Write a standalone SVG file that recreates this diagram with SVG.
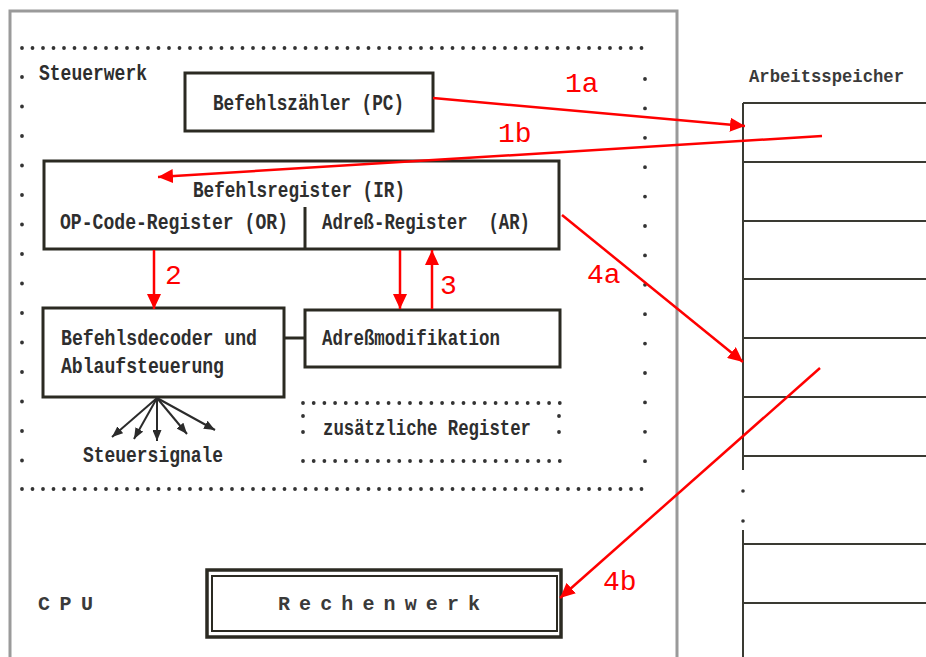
<svg xmlns="http://www.w3.org/2000/svg" width="926" height="657" viewBox="0 0 926 657">
<defs>
<style>
.box{fill:none;stroke:#2b2a22;stroke-width:3}
.t{font-family:"Liberation Mono","DejaVu Sans Mono",monospace;font-size:22px;font-weight:bold;fill:#2e2e2e}
.tl{font-family:"Liberation Mono","DejaVu Sans Mono",monospace;font-size:20px;font-weight:bold;fill:#3a3a3a}
.dots{fill:none;stroke:#333;stroke-width:3.8;stroke-linecap:round}
.mem{fill:none;stroke:#3a3a32;stroke-width:2}
.red{fill:none;stroke:#ff0000;stroke-width:2.5}
.rl{font-family:"Liberation Mono","DejaVu Sans Mono",monospace;font-size:28px;fill:#ff0000}
.sig{fill:none;stroke:#2b2b2b;stroke-width:2}
</style>
<marker id="ah" markerUnits="userSpaceOnUse" markerWidth="16" markerHeight="14" refX="15" refY="7" orient="auto">
<path d="M0,0 L15,7 L0,14 z" fill="#ff0000"/>
</marker>
<marker id="sh" markerUnits="userSpaceOnUse" markerWidth="11" markerHeight="9" refX="11" refY="4.5" orient="auto">
<path d="M0,0 L11,4.5 L0,9 z" fill="#2b2b2b"/>
</marker>
</defs>
<rect width="926" height="657" fill="#ffffff"/>

<g id="cpu">
<polyline points="10,657 10,11 677,11 677,657" fill="none" stroke="#9a9a9a" stroke-width="3"/>
<text class="tl" x="38" y="610" textLength="55" lengthAdjust="spacing">CPU</text>
</g>

<g id="steuerwerk">
<line class="dots" x1="22" y1="48" x2="645" y2="48" stroke-dasharray="0 10.5"/>
<line class="dots" x1="22" y1="489" x2="645" y2="489" stroke-dasharray="0 10.5"/>
<line class="dots" x1="22" y1="77" x2="22" y2="462" stroke-dasharray="0 29.5"/>
<line class="dots" x1="645" y1="79" x2="645" y2="462" stroke-dasharray="0 29.4"/>
<text class="t" x="39" y="80" textLength="108" lengthAdjust="spacingAndGlyphs">Steuerwerk</text>
</g>

<g id="befehlszaehler">
<rect class="box" x="185" y="73" width="248" height="58"/>
<text class="t" x="213" y="110" textLength="191" lengthAdjust="spacingAndGlyphs">Befehlszähler (PC)</text>
</g>

<g id="befehlsregister">
<rect class="box" x="44" y="161" width="515" height="88"/>
<line class="box" x1="305" y1="207" x2="305" y2="249"/>
<text class="t" x="193" y="197" textLength="212" lengthAdjust="spacingAndGlyphs">Befehlsregister (IR)</text>
<text class="t" x="60" y="229" textLength="228" lengthAdjust="spacingAndGlyphs">OP-Code-Register (OR)</text>
<text class="t" x="322" y="229" textLength="208" lengthAdjust="spacingAndGlyphs" xml:space="preserve">Adreß-Register  (AR)</text>
</g>

<g id="befehlsdecoder">
<rect class="box" x="43" y="308" width="241" height="89"/>
<text class="t" x="61" y="345" textLength="196" lengthAdjust="spacingAndGlyphs">Befehlsdecoder und</text>
<text class="t" x="61" y="373" textLength="163" lengthAdjust="spacingAndGlyphs">Ablaufsteuerung</text>
</g>

<g id="adressmodifikation">
<rect class="box" x="305" y="310" width="255" height="57"/>
<text class="t" x="322" y="345" textLength="178" lengthAdjust="spacingAndGlyphs">Adreßmodifikation</text>
</g>

<g id="zusaetzliche-register">
<line class="dots" x1="303" y1="403" x2="560" y2="403" stroke-dasharray="0 10.7"/>
<line class="dots" x1="303" y1="461" x2="560" y2="461" stroke-dasharray="0 10.7"/>
<line class="dots" x1="303" y1="416" x2="303" y2="448" stroke-dasharray="0 16"/>
<line class="dots" x1="559" y1="416" x2="559" y2="448" stroke-dasharray="0 16"/>
<text class="t" x="323" y="435" textLength="208" lengthAdjust="spacingAndGlyphs">zusätzliche Register</text>
</g>

<g id="steuersignale">
<line class="sig" x1="157" y1="398" x2="112" y2="437" marker-end="url(#sh)"/>
<line class="sig" x1="157" y1="398" x2="134" y2="439" marker-end="url(#sh)"/>
<line class="sig" x1="157" y1="398" x2="157" y2="441" marker-end="url(#sh)"/>
<line class="sig" x1="157" y1="398" x2="187" y2="434" marker-end="url(#sh)"/>
<line class="sig" x1="157" y1="398" x2="215" y2="430" marker-end="url(#sh)"/>
<text class="t" x="83" y="462" textLength="140" lengthAdjust="spacingAndGlyphs">Steuersignale</text>
</g>

<g id="rechenwerk">
<rect x="207" y="570" width="354" height="67" fill="none" stroke="#2b2a22" stroke-width="3.5"/>
<rect x="212" y="576" width="345" height="55" fill="none" stroke="#2b2a22" stroke-width="2"/>
<text class="tl" x="278" y="610" textLength="202" lengthAdjust="spacing">Rechenwerk</text>
</g>

<g id="arbeitsspeicher">
<text class="tl" x="749" y="82" style="font-size:18px" textLength="155" lengthAdjust="spacingAndGlyphs">Arbeitsspeicher</text>
<line class="mem" x1="743" y1="103" x2="743" y2="470"/>
<line class="mem" x1="743" y1="530" x2="743" y2="657"/>
<line class="mem" x1="743" y1="103" x2="926" y2="103"/>
<line class="mem" x1="743" y1="162" x2="926" y2="162"/>
<line class="mem" x1="743" y1="221" x2="926" y2="221"/>
<line class="mem" x1="743" y1="279" x2="926" y2="279"/>
<line class="mem" x1="743" y1="338" x2="926" y2="338"/>
<line class="mem" x1="743" y1="397" x2="926" y2="397"/>
<line class="mem" x1="743" y1="456" x2="926" y2="456"/>
<line class="mem" x1="743" y1="544" x2="926" y2="544"/>
<line class="mem" x1="743" y1="603" x2="926" y2="603"/>
<circle cx="743" cy="491" r="1.8" fill="#333"/>
<circle cx="743" cy="521" r="1.8" fill="#333"/>
</g>

<g id="connectors">
<line class="box" x1="284" y1="338" x2="305" y2="338"/>
<line class="red" x1="433" y1="98" x2="745" y2="126" marker-end="url(#ah)"/>
<line class="red" x1="822" y1="136" x2="158" y2="177" marker-end="url(#ah)"/>
<line class="red" x1="154" y1="250" x2="154" y2="309" marker-end="url(#ah)"/>
<line class="red" x1="400" y1="250" x2="400" y2="309" marker-end="url(#ah)"/>
<line class="red" x1="432" y1="309" x2="432" y2="250" marker-end="url(#ah)"/>
<line class="red" x1="562" y1="215" x2="743" y2="362" marker-end="url(#ah)"/>
<line class="red" x1="820" y1="368" x2="560" y2="598" marker-end="url(#ah)"/>
<text class="rl" x="565" y="92">1a</text>
<text class="rl" x="498" y="142">1b</text>
<text class="rl" x="165" y="284">2</text>
<text class="rl" x="440" y="294">3</text>
<text class="rl" x="587" y="283">4a</text>
<text class="rl" x="603" y="590">4b</text>
</g>
</svg>
